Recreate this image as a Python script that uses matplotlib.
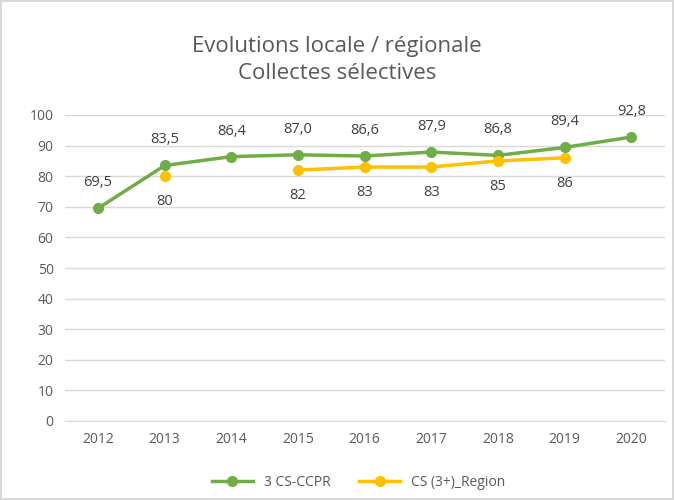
import numpy as np
import matplotlib.pyplot as plt

# Données
annees = ['2012', '2013', '2014', '2015', '2016', '2017', '2018', '2019', '2020']
cs_ccpr = [69.5, 83.5, 86.4, 87.0, 86.6, 87.9, 86.8, 89.4, 92.8]
cs_region = [np.nan, 80, np.nan, 82, 83, 83, 85, 86, np.nan]

vert = '#70AD47'
jaune = '#FFC000'
gris_txt = '#595959'

plt.rcParams['font.family'] = ['Open Sans', 'DejaVu Sans']

fig = plt.figure(figsize=(6.74, 5), dpi=100)
fig.patch.set_edgecolor('#D9D9D9')
fig.patch.set_linewidth(1.5)
ax = fig.add_axes([0.096, 0.158, 0.89, 0.612])

x = np.arange(len(annees))
ax.plot(x, cs_ccpr, color=vert, lw=2.5, marker='o', ms=7, label='3 CS-CCPR', zorder=3)
ax.plot(x, cs_region, color=jaune, lw=2.5, marker='o', ms=7, label='CS (3+)_Region', zorder=3)

for xi, v in zip(x, cs_ccpr):
    ax.annotate(f'{v:.1f}'.replace('.', ','), (xi, v), xytext=(0, 13), textcoords='offset points',
                ha='center', va='bottom', fontsize=10.5, color='#404040')
for xi, v in zip(x, cs_region):
    if not np.isnan(v):
        ax.annotate(f'{v:.0f}', (xi, v), xytext=(0, -13), textcoords='offset points',
                    ha='center', va='top', fontsize=10.5, color='#404040')

ax.set_xlim(-0.5, len(annees) - 0.5)
ax.set_ylim(0, 100)
ax.set_yticks(range(0, 101, 10))
ax.set_xticks(x)
ax.set_xticklabels(annees)
ax.tick_params(length=0, labelsize=10, colors=gris_txt, pad=8)
ax.grid(axis='y', color='#D9D9D9', lw=1)
ax.set_axisbelow(True)
for s in ['top', 'right', 'left']:
    ax.spines[s].set_visible(False)
ax.spines['bottom'].set_color('#D9D9D9')

fig.text(0.5, 0.88, 'Evolutions locale / régionale\nCollectes sélectives', ha='center', va='center',
         fontsize=16, color=gris_txt, linespacing=1.35)

ax.legend(loc='center', bbox_to_anchor=(0.49, -0.2), ncol=2, frameon=False, fontsize=10,
          handlelength=3, labelcolor=gris_txt, columnspacing=2)

fig.savefig('out.png', dpi=100)
